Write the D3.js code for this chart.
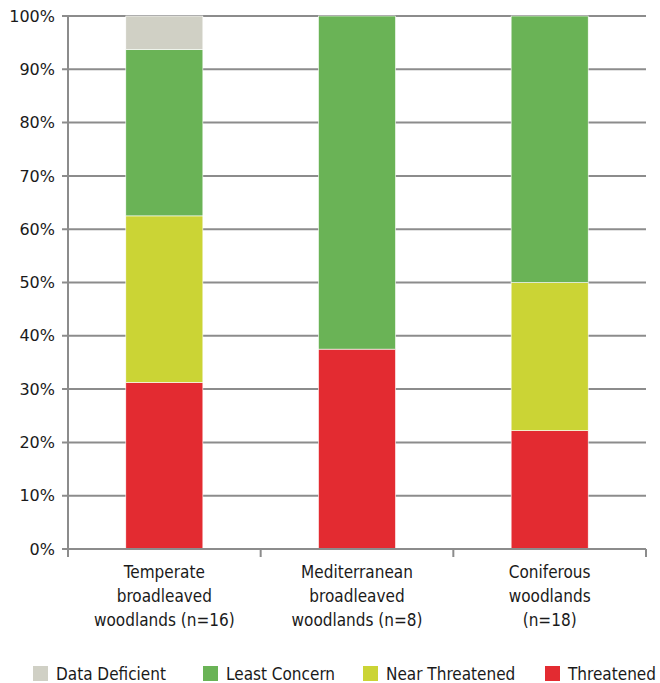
<!DOCTYPE html>
<html>
<head>
<meta charset="utf-8">
<script src="https://cdn.jsdelivr.net/npm/d3@7"></script>
<style>
  html, body { margin: 0; padding: 0; background: #fff; }
  svg text { fill: #1a1a1a; }
  .tick-label { font-family: "DejaVu Sans", sans-serif; font-size: 16px; }
  .cat-label, .legend-label { font-family: "DejaVu Sans Condensed", "DejaVu Sans", sans-serif; font-size: 17px; }
</style>
</head>
<body>
<svg id="chart" width="660" height="683"></svg>
<script>
// Woodland habitat types and their species assessment shares (%)
const categories = [
  ["Temperate", "broadleaved", "woodlands (n=16)"],
  ["Mediterranean", "broadleaved", "woodlands (n=8)"],
  ["Coniferous", "woodlands", "(n=18)"]
];
const seriesNames = ["Threatened", "Near Threatened", "Least Concern", "Data Deficient"];
const threatened     = [31.25, 37.5, 22.22];
const nearThreatened = [31.25, 0, 27.78];
const leastConcern   = [31.25, 62.5, 50];
const dataDeficient  = [6.25, 0, 0];
const seriesColors = ["#e32b31", "#cbd435", "#6ab356", "#d0d0c5"];
const yTicks = [0, 10, 20, 30, 40, 50, 60, 70, 80, 90, 100];
const legendOrder = ["Data Deficient", "Least Concern", "Near Threatened", "Threatened"];

const svg = d3.select("#chart");
const margin = { left: 68, right: 14, top: 16, bottom: 134 };
const W = 660, H = 683;
const innerW = W - margin.left - margin.right;
const innerH = H - margin.top - margin.bottom;

const g = svg.append("g").attr("transform", `translate(${margin.left},${margin.top})`);

const x = d3.scaleBand().domain(d3.range(categories.length)).range([0, innerW]).paddingInner(0.6).paddingOuter(0.3);
const y = d3.scaleLinear().domain([0, 100]).range([innerH, 0]);

const rows = categories.map((c, i) => ({
  i,
  "Threatened": threatened[i],
  "Near Threatened": nearThreatened[i],
  "Least Concern": leastConcern[i],
  "Data Deficient": dataDeficient[i]
}));
const stacked = d3.stack().keys(seriesNames)(rows);
const color = d3.scaleOrdinal().domain(seriesNames).range(seriesColors);

// horizontal gridlines with left tick marks
g.append("g").selectAll("line").data(yTicks).join("line")
  .attr("x1", -6).attr("x2", innerW)
  .attr("y1", d => y(d)).attr("y2", d => y(d))
  .attr("stroke", "#8c8c8c").attr("stroke-width", 2);

// y axis labels
g.append("g").selectAll("text").data(yTicks).join("text")
  .attr("class", "tick-label")
  .attr("x", -13).attr("y", d => y(d))
  .attr("dy", "0.35em").attr("text-anchor", "end")
  .text(d => d + "%");

// vertical axis line
g.append("line").attr("x1", 0).attr("x2", 0).attr("y1", 0).attr("y2", innerH)
  .attr("stroke", "#8c8c8c").attr("stroke-width", 2);

// category boundary ticks below the baseline
const step = innerW / categories.length;
g.append("g").selectAll("line").data(d3.range(categories.length + 1)).join("line")
  .attr("x1", d => d * step).attr("x2", d => d * step)
  .attr("y1", innerH).attr("y2", innerH + 8)
  .attr("stroke", "#8c8c8c").attr("stroke-width", 2);

// stacked bars
g.append("g").selectAll("g").data(stacked).join("g")
  .attr("fill", d => color(d.key))
  .selectAll("rect").data(d => d.filter(p => p[1] - p[0] > 0)).join("rect")
  .attr("x", d => x(d.data.i))
  .attr("width", x.bandwidth())
  .attr("y", d => y(d[1]))
  .attr("height", d => y(d[0]) - y(d[1]))
  .attr("stroke", "#ffffff").attr("stroke-width", 0.6);

// baseline drawn over bars
g.append("line").attr("x1", -6).attr("x2", innerW).attr("y1", innerH).attr("y2", innerH)
  .attr("stroke", "#8c8c8c").attr("stroke-width", 2);

// category labels
const catLabels = g.append("g").selectAll("text").data(categories).join("text")
  .attr("class", "cat-label")
  .attr("text-anchor", "middle")
  .attr("x", (d, i) => x(i) + x.bandwidth() / 2)
  .attr("y", innerH + 29);
catLabels.selectAll("tspan").data(d => d).join("tspan")
  .attr("x", function () { return d3.select(this.parentNode).attr("x"); })
  .attr("dy", (d, i) => i === 0 ? 0 : 24)
  .text(d => d);

// legend
const legendX = [33, 203, 363, 545];
const legend = svg.append("g").selectAll("g").data(legendOrder).join("g")
  .attr("transform", (d, i) => `translate(${legendX[i]},666)`);
legend.append("rect").attr("width", 15).attr("height", 15).attr("fill", d => color(d));
legend.append("text").attr("class", "legend-label")
  .attr("x", 23).attr("y", 8).attr("dy", "0.35em")
  .text(d => d);
</script>
</body>
</html>
